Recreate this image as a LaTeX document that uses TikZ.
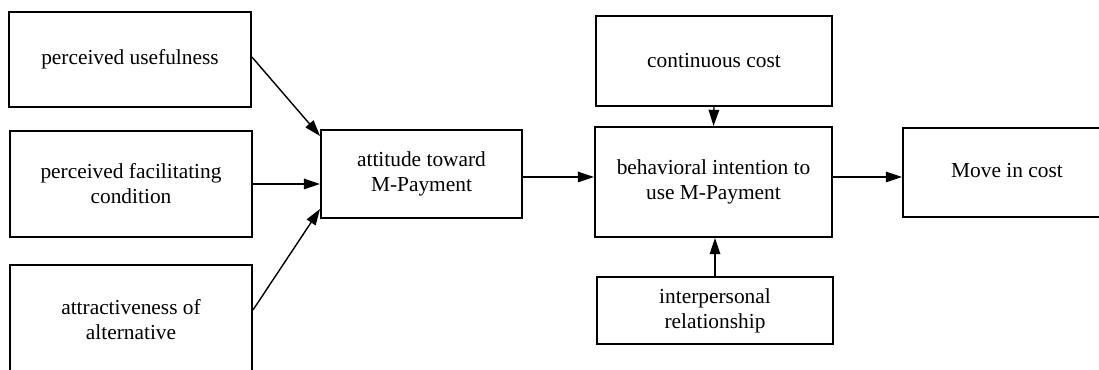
\documentclass[tikz,border=0pt]{standalone}
\usepackage{fontspec}
\setmainfont{Liberation Serif}
\usepackage{tikz}
\usetikzlibrary{positioning,calc,arrows.meta}

\begin{document}
\begin{tikzpicture}[
  box/.style={draw=black, line width=1.4pt, align=center, inner sep=0pt,
              font=\fontsize{15.2}{17.7}\selectfont},
  link/.style={-{Triangle[length=11.5pt,width=7.5pt]}, line width=1pt, draw=black},
]
\useasboundingbox (0,0) rectangle (27.475,9.25);
% ---------- antecedents of attitude ----------
\node[box, minimum width=6.05cm, minimum height=2.375cm] (useful) at (3.25,7.7625) {perceived usefulness};
\node[box, minimum width=6.05cm, minimum height=2.65cm] (facil) at (3.275,4.65) {perceived facilitating\\condition};
\node[box, minimum width=6.05cm, minimum height=2.75cm] (alter) at (3.275,1.25) {attractiveness of\\alternative};
% ---------- attitude and intention ----------
\node[box, minimum width=5.025cm, minimum height=2.2cm] (attit) at (10.5375,4.9) {attitude toward\\M-Payment};
\node[box, minimum width=5.9cm, minimum height=2.25cm] (cost) at (17.85,7.725) {continuous cost};
\node[box, minimum width=5.925cm, minimum height=2.75cm] (intent) at (17.8375,4.7) {behavioral intention to\\use M-Payment};
\node[box, minimum width=5.9cm, minimum height=1.675cm] (relat) at (17.875,1.4875) {interpersonal\\relationship};
% ---------- outcome ----------
\node[box, minimum width=5.2cm, minimum height=2.225cm] (move) at (25.175,4.9375) {\raisebox{0.1cm}{Move in cost}};

% ---------- links ----------
\draw[link] ([yshift=0.06cm]useful.east) -- ([yshift=-0.175cm]attit.north west);
\draw[link] (facil.east) -- (facil.east -| attit.west);
\draw[link] ([yshift=0.25cm]alter.east) -- ([yshift=0.25cm]attit.south west);
\draw[link] ([yshift=-0.075cm]attit.east) -- ([yshift=-0.075cm]attit.east -| intent.west);
\draw[link] (cost.south) -- (intent.north);
\draw[link] (relat.north) -- (relat.north |- intent.south);
\draw[link] ([yshift=0.125cm]intent.east) -- ([yshift=0.125cm]intent.east -| move.west);
\end{tikzpicture}
\end{document}
